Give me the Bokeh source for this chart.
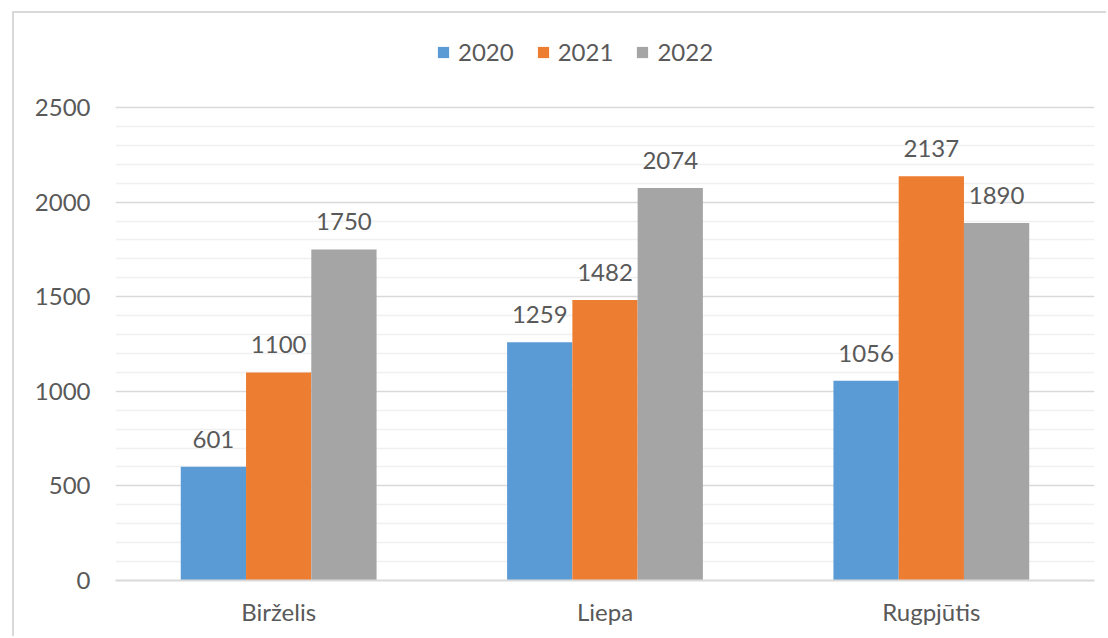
from bokeh.plotting import figure
from bokeh.models import ColumnDataSource, FactorRange, FixedTicker, Legend, LegendItem, LabelSet, Range1d
from bokeh.transform import dodge
from bokeh.core.properties import value
from bokeh.embed import file_html
from bokeh.resources import INLINE

categories = ["Birželis", "Liepa", "Rugpjūtis"]
years = ["2020", "2021", "2022"]
v2020 = [601, 1259, 1056]
v2021 = [1100, 1482, 2137]
v2022 = [1750, 2074, 1890]
colors = ["#5B9BD5", "#ED7D31", "#A5A5A5"]
major_ticks = [0, 500, 1000, 1500, 2000, 2500]
minor_ticks = [t for t in range(100, 2500, 100) if t % 500 != 0]

FONT = "Lato"
TXT = "#595959"

src = ColumnDataSource(dict(cat=categories, y2020=v2020, y2021=v2021, y2022=v2022,
                            l2020=[str(v) for v in v2020],
                            l2021=[str(v) for v in v2021],
                            l2022=[str(v) for v in v2022]))

# frame extends above 2500 so the legend can sit inside it
top_border = 14
frame_h = 567 - top_border
y_end = 2500 * frame_h / 473.0

p = figure(x_range=FactorRange(*categories), y_range=Range1d(0, y_end),
           width=1094, height=625, output_backend="svg", toolbar_location=None,
           min_border_left=101, min_border_right=14, min_border_top=top_border, min_border_bottom=58,
           margin=(11, 0, 0, 12))
p.styles = {"border-left": "2px solid #d9d9d9", "border-top": "2px solid #d9d9d9"}
p.outline_line_color = None
p.background_fill_color = "white"
p.border_fill_color = "white"

offsets = [-0.2, 0.0, 0.2]
items = []
for yr, off, col in zip(years, offsets, colors):
    r = p.vbar(x=dodge("cat", off, range=p.x_range), top="y" + yr, width=0.2,
               source=src, fill_color=col, line_color=None)
    items.append(LegendItem(label=yr, renderers=[r]))
    lab = LabelSet(x=dodge("cat", off, range=p.x_range), y="y" + yr, text="l" + yr,
                   source=src, text_align="center", text_baseline="bottom", y_offset=19,
                   text_font=value(FONT), text_font_size="24px", text_color=TXT)
    p.add_layout(lab)

p.yaxis.ticker = FixedTicker(ticks=major_ticks, minor_ticks=minor_ticks)
p.ygrid.grid_line_color = "#d9d9d9"
p.ygrid.grid_line_width = 1.5
p.ygrid.minor_grid_line_color = "#f0f0f0"
p.ygrid.minor_grid_line_width = 1.5
p.xgrid.grid_line_color = None

p.yaxis.axis_line_color = None
p.yaxis.major_tick_line_color = None
p.yaxis.minor_tick_line_color = None
p.yaxis.major_label_standoff = 19
p.yaxis.major_label_text_font = FONT
p.yaxis.major_label_text_font_size = "24px"
p.yaxis.major_label_text_color = TXT

p.xaxis.axis_line_color = "#d9d9d9"
p.xaxis.axis_line_width = 2
p.xaxis.major_tick_line_color = None
p.xaxis.minor_tick_line_color = None
p.xaxis.major_label_standoff = 10
p.xaxis.major_label_text_font = FONT
p.xaxis.major_label_text_font_size = "24px"
p.xaxis.major_label_text_color = TXT

legend = Legend(items=items, orientation="horizontal", location=(321, 514),
                glyph_width=14, glyph_height=14, label_standoff=8, spacing=22,
                padding=0, margin=0, border_line_color=None, background_fill_alpha=0,
                label_text_font=FONT, label_text_font_size="24px", label_text_color=TXT)
p.add_layout(legend, "center")

open("out.html", "w").write(file_html(p, INLINE))
